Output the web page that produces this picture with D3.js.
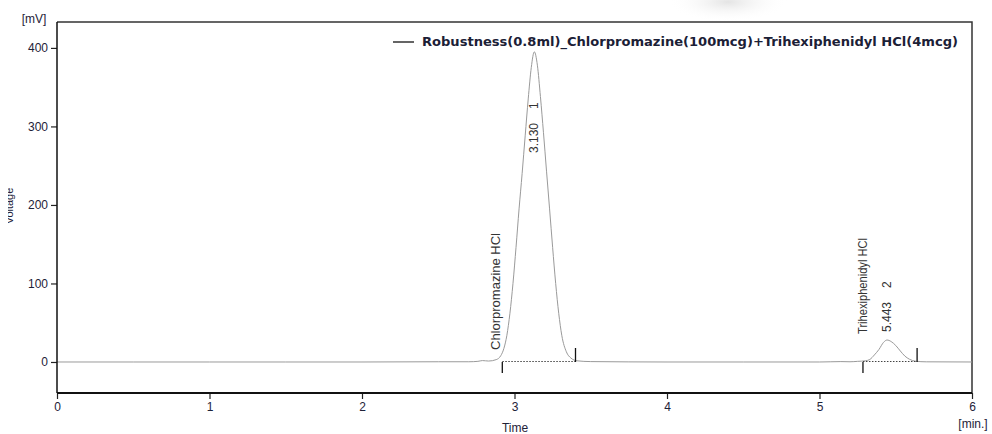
<!DOCTYPE html>
<html>
<head>
<meta charset="utf-8">
<script src="https://cdn.jsdelivr.net/npm/d3@7"></script>
<style>
    body { margin: 0; background: #fff; }
    svg { display: block; font-family: "Liberation Sans", Arial, sans-serif; }
</style>
</head>
<body>
<svg id="chart"></svg>
<script>
// detector trace (time in min, signal in mV)
const traceTime = [0, 0.5, 1, 1.5, 2, 2.5, 2.7, 2.76, 2.79, 2.83, 2.88, 2.91, 2.93, 2.95, 2.97, 2.99,
    3.01, 3.03, 3.05, 3.07, 3.09, 3.11, 3.13, 3.15, 3.17, 3.19, 3.21, 3.23, 3.25, 3.27, 3.29, 3.31,
    3.34, 3.37, 3.41, 3.5, 4, 4.5, 5, 5.14, 5.2, 5.25, 5.3, 5.33, 5.36, 5.39, 5.42, 5.443, 5.47,
    5.5, 5.53, 5.56, 5.59, 5.63, 5.7, 6];
const traceMv = [0, 0, 0, 0, 0, 0.3, 0.3, 0.8, 1.8, 1.2, 3, 8, 17, 34, 62, 100,
    146, 195, 240, 288, 335, 375, 395, 378, 338, 292, 243, 195, 146, 100, 62, 34,
    13, 5, 1.5, 0.5, 0, 0, 0, 0.5, 0.3, 0.8, 1.5, 3.2, 9, 16, 25, 28, 26,
    21, 14, 7.5, 3.5, 1, 0.2, 0];

// peak table
const peakNames = ["Chlorpromazine HCl", "Trihexiphenidyl HCl"];
const peakRT = ["3.130", "5.443"];
const peakNo = ["1", "2"];
const peakStart = [2.92, 5.285];
const peakEnd = [3.40, 5.64];

const xTicks = [0, 1, 2, 3, 4, 5, 6];
const yTicks = [0, 100, 200, 300, 400];
const legendText = "Robustness(0.8ml)_Chlorpromazine(100mcg)+Trihexiphenidyl HCl(4mcg)";

class Chromatogram {
    constructor(_config) {
        this.config = {
            parentElement: _config.parentElement,
            containerWidth: _config.containerWidth || 992,
            containerHeight: _config.containerHeight || 434,
            margin: { top: 22, bottom: 41, right: 20, left: 57 }
        }
        this.initVis();
    }

    initVis() {
        let vis = this;
        vis.width = vis.config.containerWidth - vis.config.margin.left - vis.config.margin.right;
        vis.height = vis.config.containerHeight - vis.config.margin.top - vis.config.margin.bottom;

        vis.svg = d3.select(vis.config.parentElement)
            .attr('width', vis.config.containerWidth)
            .attr('height', vis.config.containerHeight);

        let defs = vis.svg.append('defs');
        // faint shadow at the top of the screenshot
        let grad = defs.append('radialGradient').attr('id', 'shade');
        grad.append('stop').attr('offset', '0%').attr('stop-color', '#e4e4e4');
        grad.append('stop').attr('offset', '100%').attr('stop-color', '#fff').attr('stop-opacity', 0);
        // the y title is cut off on the left in the original
        defs.append('clipPath').attr('id', 'ycut')
            .append('rect').attr('x', 8).attr('y', 0).attr('width', 40).attr('height', 434);

        vis.svg.append('ellipse')
            .attr('cx', 728).attr('cy', 2).attr('rx', 60).attr('ry', 20)
            .attr('fill', 'url(#shade)');

        vis.chart = vis.svg.append('g')
            .attr('transform', `translate(${vis.config.margin.left},${vis.config.margin.top})`);

        vis.xScale = d3.scaleLinear().domain([0, 6]).range([0, vis.width]);
        vis.yScale = d3.scaleLinear().domain([-39.5, 433]).range([vis.height, 0]);

        vis.updateVis();
    }

    updateVis() {
        let vis = this;
        let x = vis.xScale, y = vis.yScale;

        // frame top/right
        vis.chart.append('path')
            .attr('d', `M0,0H${vis.width}V${vis.height}`)
            .attr('fill', 'none')
            .attr('stroke', '#333')
            .attr('stroke-width', 1.5);

        // trace
        let points = traceTime.map((t, i) => [t, traceMv[i]]);
        vis.chart.append('path')
            .datum(points)
            .attr('fill', 'none')
            .attr('stroke', '#9a9a9a')
            .attr('stroke-width', 1)
            .attr('d', d3.line().x(d => x(d[0])).y(d => y(d[1])).curve(d3.curveMonotoneX));

        // integration baselines and markers
        peakStart.forEach((s, i) => {
            vis.chart.append('line')
                .attr('x1', x(s)).attr('x2', x(peakEnd[i]))
                .attr('y1', y(0) - 0.5).attr('y2', y(0) - 0.5)
                .attr('stroke', '#444')
                .attr('stroke-width', 1.2)
                .attr('stroke-dasharray', '1.5,1.5');
            vis.chart.append('line')
                .attr('x1', x(s)).attr('x2', x(s))
                .attr('y1', y(0)).attr('y2', y(0) + 11)
                .attr('stroke', '#111').attr('stroke-width', 1.3);
            vis.chart.append('line')
                .attr('x1', x(peakEnd[i])).attr('x2', x(peakEnd[i]))
                .attr('y1', y(0)).attr('y2', y(0) - 14)
                .attr('stroke', '#111').attr('stroke-width', 1.3);
        });

        // peak labels
        let nameX = [2.88, 5.285];
        let nameY = [350 - 22, 334 - 22];
        let nameLen = [117, 96];
        peakNames.forEach((n, i) => {
            vis.chart.append('text')
                .attr('transform', `translate(${x(nameX[i]) + 4},${nameY[i]}) rotate(-90)`)
                .attr('font-size', 12)
                .attr('fill', '#333')
                .attr('textLength', nameLen[i])
                .attr('lengthAdjust', 'spacingAndGlyphs')
                .text(n);
        });
        let rtY = [153 - 22, 332 - 22];
        let rtX = [3.13, 5.443];
        peakRT.forEach((r, i) => {
            vis.chart.append('text')
                .attr('transform', `translate(${x(rtX[i]) + 4},${rtY[i]}) rotate(-90)`)
                .attr('font-size', 12)
                .attr('fill', '#333')
                .text(r)
                .append('tspan')
                .attr('dx', 14)
                .text(peakNo[i]);
        });

        // axes
        let yAxis = d3.axisLeft(y).tickValues(yTicks).tickSize(6).tickPadding(3);
        let yAxisG = vis.chart.append('g').call(yAxis);
        yAxisG.select('.domain').remove();
        yAxisG.append('line')
            .attr('x1', 0).attr('x2', 0).attr('y1', 0).attr('y2', vis.height)
            .attr('stroke', '#111').attr('stroke-width', 1.5);

        let xAxis = d3.axisBottom(x).tickValues(xTicks).tickFormat(d3.format('d')).tickSize(6).tickPadding(3);
        let xAxisG = vis.chart.append('g')
            .attr('transform', `translate(0,${vis.height})`)
            .call(xAxis);
        xAxisG.select('.domain').remove();
        xAxisG.append('line')
            .attr('x1', 0).attr('x2', vis.width)
            .attr('stroke', '#111').attr('stroke-width', 2.2);

        vis.chart.selectAll('.tick line').attr('stroke', '#222').attr('stroke-width', 1.2);
        vis.chart.selectAll('.tick text')
            .attr('font-size', 12)
            .attr('font-family', '"Liberation Sans", Arial, sans-serif')
            .attr('fill', '#1e2238');
        xAxisG.selectAll('.tick text').attr('font-family', '"Liberation Sans Narrow", "Liberation Sans", Arial, sans-serif');

        // axis titles
        vis.svg.append('text')
            .attr('x', 34).attr('y', 23)
            .attr('text-anchor', 'middle')
            .attr('font-size', 12)
            .attr('fill', '#1e2238')
            .text('[mV]');
        vis.svg.append('g')
            .attr('clip-path', 'url(#ycut)')
            .append('text')
            .attr('transform', 'translate(13,206) rotate(-90)')
            .attr('text-anchor', 'middle')
            .attr('font-size', 11)
            .attr('fill', '#1e2238')
            .text('Voltage');
        vis.svg.append('text')
            .attr('x', 515).attr('y', 432)
            .attr('text-anchor', 'middle')
            .attr('font-size', 12)
            .attr('font-family', '"Liberation Sans Narrow", "Liberation Sans", Arial, sans-serif')
            .attr('fill', '#1e2238')
            .text('Time');
        vis.svg.append('text')
            .attr('x', 973).attr('y', 428)
            .attr('text-anchor', 'middle')
            .attr('font-size', 12)
            .attr('font-family', '"Liberation Sans Narrow", "Liberation Sans", Arial, sans-serif')
            .attr('fill', '#1e2238')
            .text('[min.]');

        // legend
        vis.svg.append('line')
            .attr('x1', 393).attr('x2', 414).attr('y1', 42).attr('y2', 42)
            .attr('stroke', '#111').attr('stroke-width', 1.3);
        vis.svg.append('text')
            .attr('x', 422).attr('y', 46)
            .attr('font-size', 12)
            .attr('font-family', '"DejaVu Sans", Verdana, sans-serif')
            .attr('font-weight', 'bold')
            .attr('fill', '#1b2036')
            .attr('textLength', 536)
            .attr('lengthAdjust', 'spacingAndGlyphs')
            .text(legendText);
    }
}

let chart = new Chromatogram({ parentElement: '#chart' });
</script>
</body>
</html>
